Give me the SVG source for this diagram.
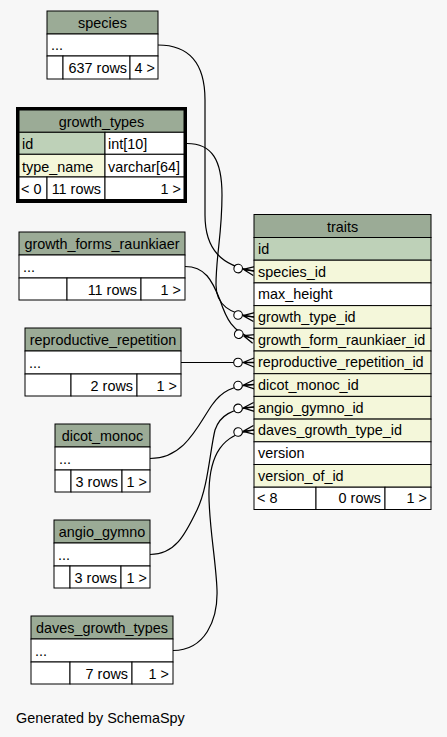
<svg xmlns="http://www.w3.org/2000/svg" width="447" height="737" viewBox="0 0 447 737">
  <style>
    text { font-family: "Liberation Sans", Arial, Helvetica, sans-serif; font-size: 14.4px; fill: #000; }
    .c { text-anchor: middle; }
    .r { text-anchor: end; }
    .hd { fill: #9bab96; stroke: #000; stroke-width: 1; }
    .pk { fill: #bed1b8; stroke: #000; stroke-width: 1; }
    .fk { fill: #f4f7da; stroke: #000; stroke-width: 1; }
    .pl { fill: #ffffff; stroke: #000; stroke-width: 1; }
    .edge { fill: none; stroke: #000; stroke-width: 1.2; marker-end: url(#crowodot); }
  </style>
  <defs>
    <marker id="crowodot" markerUnits="userSpaceOnUse" viewBox="-21 -7 22 14" refX="0" refY="0" markerWidth="22" markerHeight="14" orient="auto" overflow="visible">
      <path d="M-11,0 L0,-4.5 M-11,0 L0,0 M-11,0 L0,4.5" fill="none" stroke="#000" stroke-width="1.3"/>
      <circle cx="-16" cy="0" r="4.3" fill="#fff" stroke="#000" stroke-width="1.1"/>
    </marker>
  </defs>

  <rect width="447" height="737" fill="#f7f7f7"/>

  <!-- connectors -->
  <g id="connectors">
    <path class="edge" d="M158,45 C190,45 205,65 205,100 L205,215 C205,250 222,266 254,271"/>
    <path class="edge" d="M187,143.5 C212,143.5 222,160 222,195 C222,235 216,255 216,285 C216,305 230,314 254,317"/>
    <path class="edge" d="M185,266.5 C205,266.5 212,280 220,300 C226,318 232,332 254,339"/>
    <path class="edge" d="M181,362.5 L254,362.5"/>
    <path class="edge" d="M150,458.5 C185,458.5 198,425 212,405 C222,391 232,386 254,384.5"/>
    <path class="edge" d="M150,554.5 C175,554.5 185,535 197,510 C208,488 210,450 215,430 C220,415 232,409 254,407"/>
    <path class="edge" d="M173,650.5 C205,650.5 218,620 217,590 C216,560 208,520 209,490 C210,455 222,434 254,430"/>
  </g>

  <!-- species -->
  <g id="species">
    <rect class="hd" x="47" y="11" width="111" height="23"/>
    <rect class="pl" x="47" y="34" width="111" height="22"/>
    <rect class="pl" x="47" y="56" width="16" height="23"/>
    <rect class="pl" x="63" y="56" width="67" height="23"/>
    <rect class="pl" x="130" y="56" width="28" height="23"/>
    <text class="c" x="102.5" y="28">species</text>
    <text x="51" y="50">...</text>
    <text class="r" x="127" y="73">637 rows</text>
    <text class="r" x="155" y="73">4 &gt;</text>
  </g>

  <!-- growth_types -->
  <g id="growth_types">
    <rect class="hd" x="19" y="110" width="165" height="22.3"/>
    <rect class="pk" x="19" y="132.3" width="86" height="22"/>
    <rect class="pl" x="105" y="132.3" width="79" height="22"/>
    <rect class="fk" x="19" y="154.3" width="86" height="22.7"/>
    <rect class="pl" x="105" y="154.3" width="79" height="22.7"/>
    <rect class="pl" x="19" y="177" width="28" height="22.5"/>
    <rect class="pl" x="47" y="177" width="58" height="22.5"/>
    <rect class="pl" x="105" y="177" width="79" height="22.5"/>
    <rect x="17.5" y="108.5" width="168" height="93" fill="none" stroke="#000" stroke-width="3"/>
    <text class="c" x="101.5" y="126.5">growth_types</text>
    <text x="22" y="149">id</text>
    <text x="108" y="149">int[10]</text>
    <text x="22" y="171.5">type_name</text>
    <text x="108" y="171.5">varchar[64]</text>
    <text x="21" y="194">&lt; 0</text>
    <text class="r" x="101" y="194">11 rows</text>
    <text class="r" x="181" y="194">1 &gt;</text>
  </g>

  <!-- growth_forms_raunkiaer -->
  <g id="growth_forms_raunkiaer">
    <rect class="hd" x="19" y="232" width="166" height="23"/>
    <rect class="pl" x="19" y="255" width="166" height="23"/>
    <rect class="pl" x="19" y="278" width="48" height="22"/>
    <rect class="pl" x="67" y="278" width="74" height="22"/>
    <rect class="pl" x="141" y="278" width="44" height="22"/>
    <text class="c" x="102" y="249">growth_forms_raunkiaer</text>
    <text x="23" y="272">...</text>
    <text class="r" x="137" y="294.5">11 rows</text>
    <text class="r" x="181" y="294.5">1 &gt;</text>
  </g>

  <!-- reproductive_repetition -->
  <g id="reproductive_repetition">
    <rect class="hd" x="25" y="328" width="156" height="23"/>
    <rect class="pl" x="25" y="351" width="156" height="23"/>
    <rect class="pl" x="25" y="374" width="46" height="22"/>
    <rect class="pl" x="71" y="374" width="66" height="22"/>
    <rect class="pl" x="137" y="374" width="44" height="22"/>
    <text class="c" x="103" y="345">reproductive_repetition</text>
    <text x="29" y="368">...</text>
    <text class="r" x="133" y="390.5">2 rows</text>
    <text class="r" x="177" y="390.5">1 &gt;</text>
  </g>

  <!-- traits -->
  <g id="traits">
    <rect class="hd" x="254" y="214.5" width="177" height="23"/>
    <rect class="pk" x="254" y="237.5" width="177" height="22.7"/>
    <rect class="fk" x="254" y="260.2" width="177" height="22.7"/>
    <rect class="pl" x="254" y="282.9" width="177" height="22.7"/>
    <rect class="fk" x="254" y="305.6" width="177" height="22.7"/>
    <rect class="fk" x="254" y="328.3" width="177" height="22.7"/>
    <rect class="fk" x="254" y="351" width="177" height="22.7"/>
    <rect class="fk" x="254" y="373.7" width="177" height="22.7"/>
    <rect class="fk" x="254" y="396.4" width="177" height="22.7"/>
    <rect class="fk" x="254" y="419.1" width="177" height="22.7"/>
    <rect class="pl" x="254" y="441.8" width="177" height="22.7"/>
    <rect class="fk" x="254" y="464.5" width="177" height="22.7"/>
    <rect class="pl" x="254" y="487.2" width="62" height="22.3"/>
    <rect class="pl" x="316" y="487.2" width="69" height="22.3"/>
    <rect class="pl" x="385" y="487.2" width="46" height="22.3"/>
    <text class="c" x="342.5" y="231.5">traits</text>
    <text x="258" y="254">id</text>
    <text x="258" y="276.5">species_id</text>
    <text x="258" y="299.2">max_height</text>
    <text x="258" y="321.9">growth_type_id</text>
    <text x="258" y="344.6">growth_form_raunkiaer_id</text>
    <text x="258" y="367.3">reproductive_repetition_id</text>
    <text x="258" y="390">dicot_monoc_id</text>
    <text x="258" y="412.7">angio_gymno_id</text>
    <text x="258" y="435.4">daves_growth_type_id</text>
    <text x="258" y="458.1">version</text>
    <text x="258" y="480.8">version_of_id</text>
    <text x="257" y="503.3">&lt; 8</text>
    <text class="r" x="381" y="503.3">0 rows</text>
    <text class="r" x="427" y="503.3">1 &gt;</text>
  </g>

  <!-- dicot_monoc -->
  <g id="dicot_monoc">
    <rect class="hd" x="55" y="424" width="95" height="23"/>
    <rect class="pl" x="55" y="447" width="95" height="23"/>
    <rect class="pl" x="55" y="470" width="16" height="22"/>
    <rect class="pl" x="71" y="470" width="51" height="22"/>
    <rect class="pl" x="122" y="470" width="28" height="22"/>
    <text class="c" x="102.5" y="441">dicot_monoc</text>
    <text x="59" y="464">...</text>
    <text class="r" x="118" y="486.5">3 rows</text>
    <text class="r" x="147" y="486.5">1 &gt;</text>
  </g>

  <!-- angio_gymno -->
  <g id="angio_gymno">
    <rect class="hd" x="54" y="520" width="96" height="23"/>
    <rect class="pl" x="54" y="543" width="96" height="23"/>
    <rect class="pl" x="54" y="566" width="16" height="22"/>
    <rect class="pl" x="70" y="566" width="51" height="22"/>
    <rect class="pl" x="121" y="566" width="29" height="22"/>
    <text class="c" x="102" y="537">angio_gymno</text>
    <text x="58" y="560">...</text>
    <text class="r" x="117" y="582.5">3 rows</text>
    <text class="r" x="147" y="582.5">1 &gt;</text>
  </g>

  <!-- daves_growth_types -->
  <g id="daves_growth_types">
    <rect class="hd" x="31" y="616" width="142" height="23"/>
    <rect class="pl" x="31" y="639" width="142" height="23"/>
    <rect class="pl" x="31" y="662" width="39" height="22"/>
    <rect class="pl" x="70" y="662" width="62" height="22"/>
    <rect class="pl" x="132" y="662" width="41" height="22"/>
    <text class="c" x="102" y="633">daves_growth_types</text>
    <text x="35" y="656">...</text>
    <text class="r" x="128" y="678.5">7 rows</text>
    <text class="r" x="169" y="678.5">1 &gt;</text>
  </g>

  <text x="16" y="723">Generated by SchemaSpy</text>
</svg>
